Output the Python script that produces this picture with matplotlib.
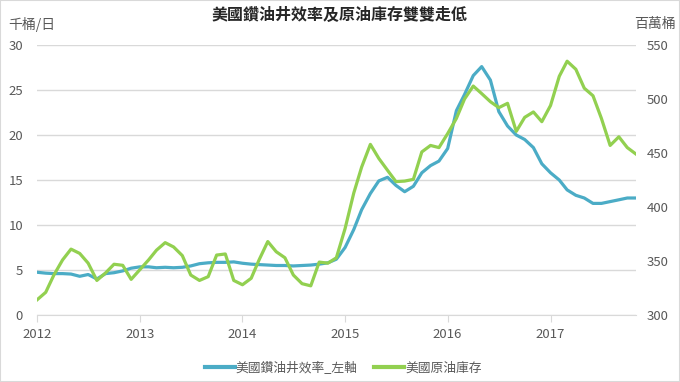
import matplotlib
matplotlib.use("Agg")
import matplotlib.pyplot as plt
import matplotlib.dates as mdates
import pandas as pd
from matplotlib.patches import Rectangle

plt.rcParams['font.family'] = ['Noto Sans CJK TC', 'DejaVu Sans']

# monthly data, Jan 2012 - Nov 2017
months = pd.date_range('2012-01-01', periods=71, freq='MS')

# drilling efficiency (left axis, thousand barrels/day)
efficiency = [
    4.75, 4.65, 4.6, 4.6, 4.55, 4.3, 4.5, 4.0, 4.6, 4.7, 4.9, 5.2,
    5.35, 5.35, 5.25, 5.3, 5.25, 5.3, 5.45, 5.7, 5.8, 5.85, 5.85, 5.9,
    5.75, 5.65, 5.6, 5.55, 5.5, 5.5, 5.45, 5.5, 5.55, 5.65, 5.8, 6.2,
    7.5, 9.5, 11.7, 13.5, 14.9, 15.3, 14.4, 13.7, 14.3, 15.8, 16.6, 17.1,
    18.5, 22.7, 24.5, 26.6, 27.6, 26.1, 22.6, 21.0, 20.0, 19.5, 18.6, 16.8,
    15.8, 15.0, 13.9, 13.3, 13.0, 12.4, 12.4, 12.6, 12.8, 13.0, 13.0,
]

# crude oil inventory (right axis, million barrels)
inventory = [
    314, 321, 337, 351, 361, 357, 348, 332, 339, 347, 346, 333,
    342, 351, 360, 367, 363, 355, 337, 332, 335.5, 355.5, 356.5, 332,
    328, 334, 351, 368, 358.6, 353, 337, 329, 327, 349, 348, 353,
    380, 413, 437, 458, 445, 434, 423.5, 424, 425.6, 451, 457, 455,
    468, 482, 500, 512, 505, 497.5, 492, 496, 470, 483, 488, 479,
    494, 521, 535, 527.5, 510, 503, 482, 457, 465, 455, 449,
]

title = '美國鑽油井效率及原油庫存雙雙走低'
left_unit = '千桶/日'
right_unit = '百萬桶'
labels = ['美國鑽油井效率_左軸', '美國原油庫存']

blue = '#4BACC6'
green = '#92D050'
grey = '#595959'

fig = plt.figure(figsize=(6.8, 3.82), dpi=100)
fig.patches.append(Rectangle((0, 0), 1, 1, transform=fig.transFigure,
                             fill=False, edgecolor='#D9D9D9', lw=1.5))
ax = fig.add_axes([37 / 680, 1 - 315 / 382, (636 - 37) / 680, 270 / 382])
ax2 = ax.twinx()

l1, = ax.plot(months, efficiency, color=blue, lw=2.3, solid_joinstyle='round')
l2, = ax2.plot(months, inventory, color=green, lw=2.3, solid_joinstyle='round')

ax.set_xlim(months[0], months[-1])
ax.set_ylim(0, 30)
ax.set_yticks(range(0, 31, 5))
ax2.set_ylim(300, 550)
ax2.set_yticks(range(300, 551, 50))

ax.xaxis.set_major_locator(mdates.YearLocator())
ax.xaxis.set_major_formatter(mdates.DateFormatter('%Y'))

ax.grid(axis='y', color='#D9D9D9', lw=1)
ax.set_axisbelow(True)
for a in (ax, ax2):
    for s in a.spines.values():
        s.set_visible(False)
ax.spines['bottom'].set_visible(True)
ax.spines['bottom'].set_color('#D9D9D9')

ax.tick_params(axis='y', length=0, labelsize=9.5, labelcolor=grey, pad=10)
ax2.tick_params(axis='y', length=0, labelsize=9.5, labelcolor=grey, pad=8)
ax.tick_params(axis='x', length=5, color='#D9D9D9', labelsize=9.5,
               labelcolor=grey, pad=4)

fig.text(0.5, 0.962, title, ha='center', va='center', fontsize=11.5,
         color='#262626', fontweight='bold')
fig.text(8 / 680, 0.937, left_unit, ha='left', va='center', fontsize=10, color=grey)
fig.text(676 / 680, 0.937, right_unit, ha='right', va='center', fontsize=10, color=grey)

fig.legend([l1, l2], labels, loc='center', bbox_to_anchor=(0.505, 1 - 368 / 382),
           ncol=2, frameon=False, fontsize=9.2, labelcolor=grey,
           handlelength=2.3, handletextpad=0.1, columnspacing=1.3)
for h in fig.legends[0].legend_handles:
    h.set_linewidth(3)

fig.savefig('out.png', dpi=100)
